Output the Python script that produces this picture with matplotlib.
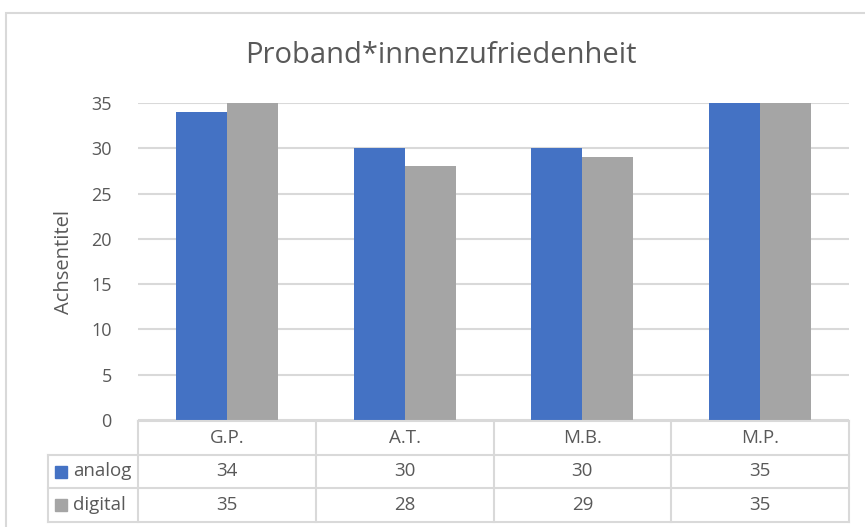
import matplotlib
matplotlib.use("Agg")
import matplotlib.pyplot as plt
from matplotlib.patches import Rectangle

# data
categories = ["G.P.", "A.T.", "M.B.", "M.P."]
series_names = ["analog", "digital"]
analog = [34, 30, 30, 35]
digital = [35, 28, 29, 35]
yticks = [0, 5, 10, 15, 20, 25, 30, 35]

colors = ["#4472C4", "#A5A5A5"]
text_col = "#595959"
grid_col = "#D9D9D9"

plt.rcParams["font.family"] = ["Open Sans", "DejaVu Sans"]

W, H = 865, 527
fig = plt.figure(figsize=(W / 100, H / 100), dpi=100)
fig.patch.set_facecolor("white")

# chart frame (cut at right/bottom edges)
fig.patches.append(Rectangle((6 / W, -0.1), 1.2, (H - 13) / H + 0.1,
                             transform=fig.transFigure, fill=False,
                             edgecolor=grid_col, linewidth=1.5))

x0, x1 = 138, 849
y_top, y_zero = 103, 420
ax = fig.add_axes([x0 / W, (H - y_zero) / H, (x1 - x0) / W, (y_zero - y_top) / H])

n = len(categories)
xs = list(range(n))
bw = 0.287
ax.bar([x - bw / 2 for x in xs], analog, width=bw, color=colors[0], zorder=3)
ax.bar([x + bw / 2 for x in xs], digital, width=bw, color=colors[1], zorder=3)

ax.set_xlim(-0.5, n - 0.5)
ax.set_ylim(0, 35)
ax.set_yticks(yticks)
ax.set_yticklabels([str(v) for v in yticks], fontsize=13, color=text_col)
ax.set_xticks([])
ax.tick_params(axis="y", length=0, pad=19)
ax.grid(axis="y", color=grid_col, linewidth=1.5, zorder=0)
for s in ax.spines.values():
    s.set_visible(False)
ax.set_ylabel("Achsentitel", fontsize=14.5, color=text_col, labelpad=12)

fig.text(441 / W, (H - 56) / H, "Proband*innenzufriedenheit",
         ha="center", va="center", fontsize=21, color=text_col)

# data table
t_top, t_bot = 421, 522
tax = fig.add_axes([x0 / W, (H - t_bot) / H, (x1 - x0) / W, (t_bot - t_top) / H])
tax.set_xlim(-0.5, n - 0.5)
tax.set_ylim(3, 0)
tax.axis("off")
cw = (x1 - x0) / n
x_left = -0.5 - (x0 - 48) / cw

lk = dict(color=grid_col, linewidth=1.5, clip_on=False)
tax.plot([-0.5, n - 0.5], [0, 0], **lk)
for r in (1, 2, 3):
    tax.plot([x_left, n - 0.5], [r, r], **lk)
for i in range(n + 1):
    tax.plot([i - 0.5, i - 0.5], [0, 3], **lk)
tax.plot([x_left, x_left], [1, 3], **lk)

fs_tab = 13.5
for i, c in enumerate(categories):
    tax.text(i, 0.5, c, ha="center", va="center", fontsize=fs_tab, color=text_col)
for r, (name, vals, col) in enumerate(zip(series_names, [analog, digital], colors), start=1):
    tax.plot([-0.5 - (x0 - 61) / cw], [r + 0.5], marker="s", ms=8, color=col,
             linestyle="none", clip_on=False)
    tax.text(-0.5 - (x0 - 73) / cw, r + 0.5, name, ha="left", va="center",
             fontsize=fs_tab, color=text_col)
    for i, v in enumerate(vals):
        tax.text(i, r + 0.5, str(v), ha="center", va="center", fontsize=fs_tab,
                 color=text_col)

fig.savefig("out.png", dpi=100, facecolor="white")
